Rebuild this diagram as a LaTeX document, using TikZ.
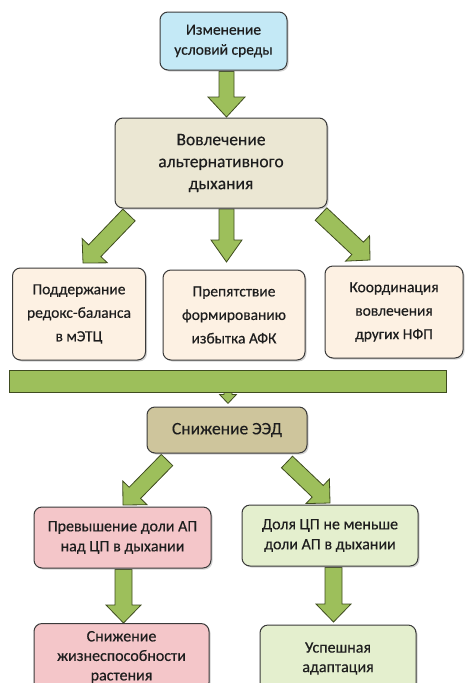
\documentclass[tikz,border=0pt]{standalone}
\usepackage{fontspec}
\setmainfont{Carlito}[FakeBold=0.35]
\usetikzlibrary{calc,shadows,backgrounds}
\definecolor{cblue}{HTML}{C4E9F6}
\definecolor{cbeige}{HTML}{EBE7D3}
\definecolor{cpeach}{HTML}{FDF1E3}
\definecolor{ckhaki}{HTML}{CEC59C}
\definecolor{cpink}{HTML}{F4C6C9}
\definecolor{cgreen}{HTML}{E4EFCE}
\definecolor{arrfill}{HTML}{9DBF5B}
\definecolor{arrline}{HTML}{3F4C1F}
\definecolor{bline}{HTML}{3A3A3A}
\definecolor{txt}{HTML}{1E1E1E}
\newcommand\blockarrow[5]{%
  \coordinate (hb) at ($(#2)!#5!(#1)$);
  \filldraw[arrowstyle] ($(#1)!#3!90:(#2)$) -- ($(hb)!#3!90:(#2)$) -- ($(hb)!#4!90:(#2)$) -- (#2)
    -- ($(hb)!#4!-90:(#2)$) -- ($(hb)!#3!-90:(#2)$) -- ($(#1)!#3!-90:(#2)$) -- cycle;}
\tikzset{
  box/.style={draw=bline, line width=1pt, rounded corners=8pt, align=center, text=txt,
    inner sep=2pt, drop shadow={opacity=0.35, shadow xshift=1.5pt, shadow yshift=-1.5pt}},
  arrowstyle/.style={fill=arrfill, draw=arrline, line width=0.8pt, line join=miter},
}
\begin{document}
\begin{tikzpicture}[x=1pt,y=-1pt]
\useasboundingbox (0,0) rectangle (467,683);
% boxes
\node[box, fill=cblue, minimum width=127pt, minimum height=58pt, font=\fontsize{15.5}{20}\selectfont] (chg) at (223.5,41) {Изменение\\условий среды};
\node[box, fill=cbeige, minimum width=212pt, minimum height=90pt, font=\fontsize{17.5}{22}\selectfont] (alt) at (221,163) {Вовлечение\\альтернативного\\дыхания};
\node[box, fill=cpeach, minimum width=133pt, minimum height=92pt, font=\fontsize{15.5}{23.5}\selectfont] (m1) at (79,314) {Поддержание\\редокс-баланса\\в мЭТЦ};
\node[box, fill=cpeach, minimum width=142pt, minimum height=90pt, font=\fontsize{15.5}{23.5}\selectfont] (m2) at (234,315) {Препятствие\\формированию\\избытка АФК};
\node[box, fill=cpeach, minimum width=138pt, minimum height=92pt, font=\fontsize{15.5}{23.5}\selectfont] (m3) at (394,312) {Координация\\вовлечения\\других НФП};
\node[arrowstyle, rectangle, minimum width=437pt, minimum height=22pt, inner sep=0pt] (bar) at (227.5,381) {};
\node[box, fill=ckhaki, minimum width=160pt, minimum height=46pt, font=\fontsize{17.5}{22}\selectfont] (eed) at (227,430) {Снижение ЭЭД};
\node[box, fill=cpink, minimum width=177pt, minimum height=61pt, font=\fontsize{16}{20}\selectfont] (p1) at (122.5,537.5) {Превышение доли АП\\над ЦП в дыхании};
\node[box, fill=cgreen, minimum width=176pt, minimum height=61pt, font=\fontsize{16}{20}\selectfont] (g1) at (330,535.5) {Доля ЦП не меньше\\доли АП в дыхании};
\node[box, fill=cpink, minimum width=175pt, minimum height=67pt, font=\fontsize{16}{19.5}\selectfont] (p2) at (121.5,657) {Снижение\\жизнеспособности\\растения};
\node[box, fill=cgreen, minimum width=156pt, minimum height=67pt, font=\fontsize{16}{19.5}\selectfont] (g2) at (338,658.5) {Успешная\\адаптация};
% arrow endpoints
\coordinate (a0s) at ($(chg.south)+(3,1)$);
\coordinate (a0e) at (226.5,117);
\coordinate (a1s) at (129,215);
\coordinate (a1e) at (83,263);
\coordinate (a2s) at (226.5,209);
\coordinate (a2e) at (226.5,262);
\coordinate (a3s) at (321,214);
\coordinate (a3e) at (370,260);
\coordinate (b0s) at ($(bar.south)+(0.5,-1)$);
\coordinate (b0e) at ($(bar.south)+(0.5,11)$);
\coordinate (c1s) at (167,460);
\coordinate (c1e) at (123,505);
\coordinate (c2s) at (287,462);
\coordinate (c2e) at (330,503);
\coordinate (d1s) at ($(p1.south)+(1,1)$);
\coordinate (d1e) at (123.5,623);
\coordinate (d2s) at ($(g1.south)+(3.5,1)$);
\coordinate (d2e) at (333.5,622);
\begin{pgfonlayer}{background}
\blockarrow{a0s}{a0e}{7.5pt}{18.5pt}{20pt}
\blockarrow{a1s}{a1e}{8.5pt}{17.5pt}{17pt}
\blockarrow{a2s}{a2e}{7.5pt}{15.5pt}{22pt}
\blockarrow{a3s}{a3e}{8.5pt}{17.5pt}{17pt}
\blockarrow{b0s}{b0e}{4pt}{8.5pt}{9pt}
\blockarrow{c1s}{c1e}{8pt}{17pt}{17pt}
\blockarrow{c2s}{c2e}{8pt}{17pt}{17pt}
\blockarrow{d1s}{d1e}{8.5pt}{17.5pt}{18pt}
\blockarrow{d2s}{d2e}{8.5pt}{17.5pt}{18pt}
\end{pgfonlayer}
\end{tikzpicture}
\end{document}
